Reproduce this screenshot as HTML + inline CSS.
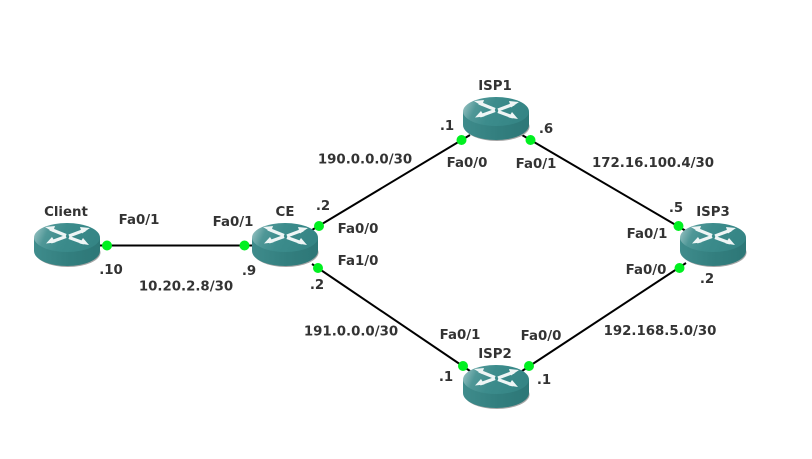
<!DOCTYPE html>
<html><head><meta charset="utf-8"><style>
html,body{margin:0;padding:0;background:#fff;width:812px;height:459px;overflow:hidden}
svg{display:block}
text{font-family:"DejaVu Sans",sans-serif;font-weight:bold;font-size:13.33px;fill:#333;text-anchor:middle}
</style></head><body>
<svg width="812" height="459" viewBox="0 0 812 459">
<defs>
<linearGradient id="top" x1="0" y1="0" x2="1" y2="0.2"><stop offset="0" stop-color="#a8cccc"/><stop offset="0.25" stop-color="#4f9797"/><stop offset="0.5" stop-color="#3c8c8c"/><stop offset="1" stop-color="#358585"/></linearGradient>
<linearGradient id="body" x1="0" y1="0" x2="1" y2="0"><stop offset="0" stop-color="#3f8c8c"/><stop offset="0.5" stop-color="#337f7f"/><stop offset="1" stop-color="#2d7777"/></linearGradient>
<g id="r">
<ellipse cx="1" cy="7.500" rx="32.500" ry="14.500" fill="#a5a5a5"/>
<path d="M-33-7V6A33 15 0 0 0 33 6V-7Z" fill="url(#body)"/>
<ellipse cx="0" cy="-7.500" rx="33" ry="14.500" fill="url(#top)"/>
<g stroke="#eef5f5" stroke-width="3.200" fill="none">
<path d="M-17-16-1-9.500M-16-3-1-8.500M18-15 2-9M17-2 2-7.500"/>
</g>
<g fill="#eef5f5">
<path d="M-22-18-12-19-14-13Z"/><path d="M-21-1.500-15-8-11.500-2.500Z"/><path d="M23-17 13-18 15-11.500Z"/><path d="M22 0 16-7 12.500-1.500Z"/>
</g>
</g>
</defs>
<g stroke="#000" stroke-width="2" fill="none">
<line x1="100" y1="245.500" x2="252" y2="245.500"/>
<line x1="312" y1="230" x2="470" y2="135"/>
<line x1="312" y1="264" x2="470" y2="371"/>
<line x1="522" y1="135" x2="686" y2="231"/>
<line x1="522" y1="371" x2="686" y2="263"/>
</g>
<use href="#r" x="67" y="245"/>
<use href="#r" x="285" y="245"/>
<use href="#r" x="496" y="119"/>
<use href="#r" x="713" y="245"/>
<use href="#r" x="496" y="387"/>
<g fill="#00f020">
<circle cx="107" cy="245.500" r="5"/><circle cx="244.500" cy="245.500" r="5"/><circle cx="319" cy="226" r="5"/><circle cx="318" cy="268" r="5"/>
<circle cx="461.500" cy="140" r="5"/><circle cx="530.500" cy="140" r="5"/><circle cx="678.500" cy="226" r="5"/><circle cx="679.500" cy="268" r="5"/>
<circle cx="463" cy="366" r="5"/><circle cx="529" cy="366" r="5"/>
</g>
<text x="66" y="216">Client</text>
<text x="285" y="216">CE</text>
<text x="495" y="90">ISP1</text>
<text x="713" y="216">ISP3</text>
<text x="495" y="358">ISP2</text>
<text x="139" y="224">Fa0/1</text>
<text x="233" y="226">Fa0/1</text>
<text x="358" y="233">Fa0/0</text>
<text x="358" y="265">Fa1/0</text>
<text x="467" y="167">Fa0/0</text>
<text x="536" y="168">Fa0/1</text>
<text x="647" y="238">Fa0/1</text>
<text x="646" y="274">Fa0/0</text>
<text x="460" y="339">Fa0/1</text>
<text x="541" y="340">Fa0/0</text>
<text x="111" y="274">.10</text>
<text x="249" y="275">.9</text>
<text x="323" y="210">.2</text>
<text x="317" y="289">.2</text>
<text x="447" y="130">.1</text>
<text x="546" y="133">.6</text>
<text x="676" y="212">.5</text>
<text x="707" y="283">.2</text>
<text x="446" y="381">.1</text>
<text x="544" y="384">.1</text>
<text x="186" y="290.500">10.20.2.8/30</text>
<text x="365" y="163.500">190.0.0.0/30</text>
<text x="351" y="335.500">191.0.0.0/30</text>
<text x="653" y="167">172.16.100.4/30</text>
<text x="660" y="335">192.168.5.0/30</text>
</svg>
</body></html>
